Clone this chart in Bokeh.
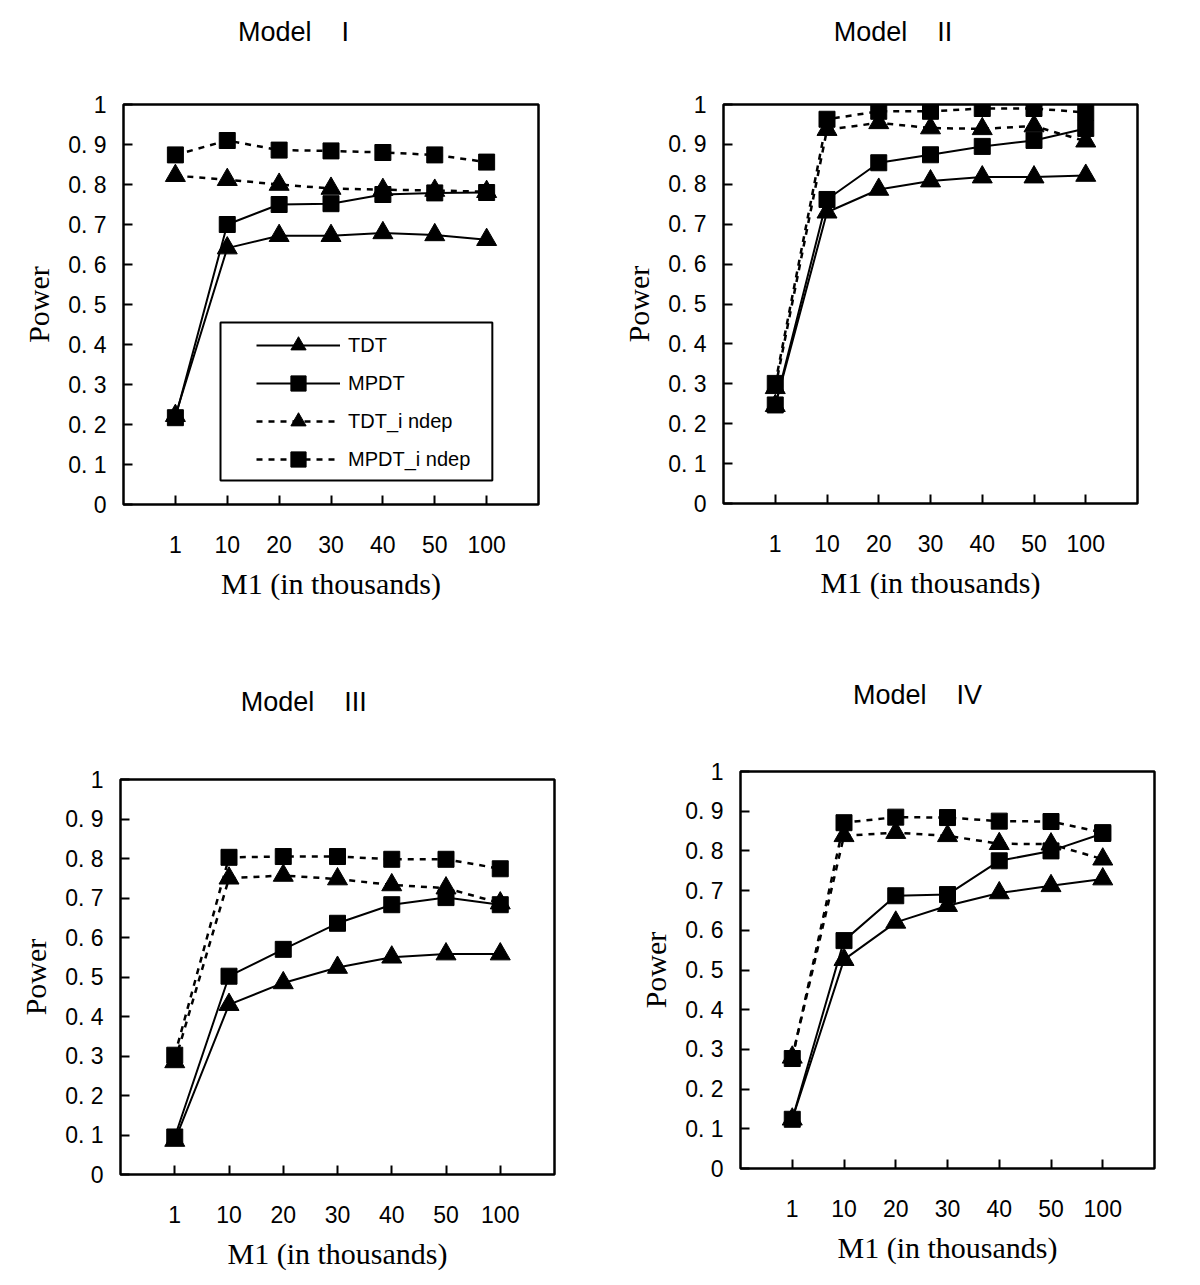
from bokeh.plotting import figure
from bokeh.models import (FixedTicker, LinearAxis, Legend, LegendItem, BoxAnnotation,
                          ColumnDataSource)
from bokeh.layouts import column, row
from bokeh.embed import file_html
from bokeh.resources import INLINE

# ---------------- data ----------------
categories = ["1", "10", "20", "30", "40", "50", "100"]
y_ticks = [0.0, 0.1, 0.2, 0.3, 0.4, 0.5, 0.6, 0.7, 0.8, 0.9, 1.0]
y_tick_labels = ["0", "0. 1", "0. 2", "0. 3", "0. 4", "0. 5", "0. 6", "0. 7", "0. 8", "0. 9", "1"]
series_names = ["TDT", "MPDT", "TDT_indep", "MPDT_indep"]
model_names = ["I", "II", "III", "IV"]

m1_tdt = [0.222, 0.641, 0.672, 0.672, 0.679, 0.674, 0.662]
m1_mpdt = [0.217, 0.700, 0.750, 0.752, 0.775, 0.779, 0.780]
m1_tdt_indep = [0.822, 0.812, 0.800, 0.790, 0.787, 0.785, 0.782]
m1_mpdt_indep = [0.874, 0.910, 0.886, 0.884, 0.880, 0.874, 0.856]

m2_tdt = [0.245, 0.730, 0.787, 0.808, 0.818, 0.818, 0.822]
m2_mpdt = [0.247, 0.762, 0.854, 0.874, 0.895, 0.910, 0.940]
m2_tdt_indep = [0.290, 0.937, 0.954, 0.941, 0.939, 0.946, 0.908]
m2_mpdt_indep = [0.301, 0.963, 0.983, 0.983, 0.990, 0.990, 0.980]

m3_tdt = [0.086, 0.430, 0.485, 0.524, 0.550, 0.558, 0.558]
m3_mpdt = [0.095, 0.502, 0.570, 0.636, 0.683, 0.701, 0.683]
m3_tdt_indep = [0.285, 0.750, 0.757, 0.748, 0.733, 0.725, 0.687]
m3_mpdt_indep = [0.302, 0.803, 0.805, 0.805, 0.798, 0.798, 0.774]

m4_tdt = [0.124, 0.526, 0.620, 0.662, 0.694, 0.712, 0.729]
m4_mpdt = [0.124, 0.574, 0.687, 0.690, 0.775, 0.800, 0.844]
m4_tdt_indep = [0.280, 0.838, 0.846, 0.838, 0.818, 0.817, 0.779]
m4_mpdt_indep = [0.277, 0.871, 0.885, 0.884, 0.875, 0.874, 0.846]

SANS = "Liberation Sans"
SERIF = "Liberation Serif"
NB = "\u00a0"


def make_panel(model, values, fw, fh, bl, br, bt, bb, title_gap, title_pad,
               legend_pos=None, margin=None):
    xs = [i + 1 for i in range(len(categories))]
    kw = {}
    if margin is not None:
        kw["margin"] = margin
    p = figure(frame_width=fw, frame_height=fh,
               min_border_left=bl, min_border_right=br,
               min_border_top=bt, min_border_bottom=bb,
               x_range=(0, len(categories) + 1), y_range=(0, 1),
               output_backend="svg", toolbar_location=None, tools="", **kw)
    p.background_fill_color = "white"
    p.border_fill_color = "white"
    p.outline_line_color = "black"
    p.outline_line_width = 2.5
    p.xgrid.visible = False
    p.ygrid.visible = False

    xa = p.below[0]
    ya = p.left[0]
    for ax in (xa, ya):
        ax.axis_line_color = None
        ax.major_tick_in = 9
        ax.major_tick_out = 0
        ax.major_tick_line_width = 2
        ax.major_tick_line_color = "black"
        ax.minor_tick_line_color = None
        ax.major_label_text_font = SANS
        ax.major_label_text_font_size = "23px"
        ax.major_label_text_color = "black"
        ax.axis_label_text_font = SERIF
        ax.axis_label_text_font_size = "30px"
        ax.axis_label_text_font_style = "normal"
        ax.axis_label_text_color = "black"

    xa.ticker = FixedTicker(ticks=xs)
    xa.major_label_overrides = {x: c for x, c in zip(xs, categories)}
    xa.major_label_standoff = 31
    xa.axis_label = "M1 (in thousands)"
    xa.axis_label_standoff = 11

    ya.ticker = FixedTicker(ticks=y_ticks)
    ya.major_label_overrides = {t: l for t, l in zip(y_ticks, y_tick_labels)}
    ya.major_label_standoff = 17
    ya.axis_label = "Power"
    ya.axis_label_standoff = 10

    # panel title, drawn as the label of an empty axis above the frame
    title_axis = LinearAxis(ticker=FixedTicker(ticks=[]),
                            axis_label="Model" + NB * 4 + model + NB * title_pad,
                            axis_line_color=None, major_tick_line_color=None,
                            minor_tick_line_color=None, major_label_text_alpha=0,
                            axis_label_standoff=title_gap,
                            axis_label_text_font=SANS, axis_label_text_font_size="27px",
                            axis_label_text_font_style="normal",
                            axis_label_text_color="black")
    p.add_layout(title_axis, "above")

    styles = [("solid", "triangle", 20, 2),
              ("solid", "square", 16, 2),
              ("6 6", "triangle", 20, 2.5),
              ("6 6", "square", 16, 2.5)]
    items = []
    for name, vals, (dash, marker, size, lw) in zip(series_names, values, styles):
        src = ColumnDataSource(dict(x=xs, y=vals))
        lr = p.line("x", "y", source=src, line_color="black", line_width=lw, line_dash=dash)
        sr = p.scatter("x", "y", source=src, marker=marker, size=size,
                       fill_color="black", line_color="black")
        label = name.replace("_indep", "_i ndep")
        items.append(LegendItem(label=label, renderers=[lr, sr]))

    if legend_pos is not None:
        lx, ly, box = legend_pos
        leg = Legend(items=items, location=(lx, ly), padding=10, spacing=0,
                     glyph_width=84, glyph_height=38, label_height=38, label_standoff=8,
                     label_text_font=SANS, label_text_font_size="20px",
                     label_text_color="black",
                     border_line_alpha=0, background_fill_alpha=0)
        p.add_layout(leg)
        p.add_layout(BoxAnnotation(left=box[0], right=box[1], bottom=box[2], top=box[3],
                                   fill_color=None, fill_alpha=0, line_color="black",
                                   line_alpha=1, line_width=2))
    return p


p1 = make_panel(model_names[0], [m1_tdt, m1_mpdt, m1_tdt_indep, m1_mpdt_indep],
                415, 400, 123, 70, 104, 136, 58, 10,
                legend_pos=(123, 16, (1.87, 7.11, 0.06, 0.455)))
p2 = make_panel(model_names[1], [m2_tdt, m2_mpdt, m2_tdt_indep, m2_mpdt_indep],
                414, 399, 115, 55, 104, 137, 58, 10)
p3 = make_panel(model_names[2], [m3_tdt, m3_mpdt, m3_tdt_indep, m3_mpdt_indep],
                434, 395, 120, 54, 131, 101, 63, 9, margin=(8, 0, 0, 0))
p4 = make_panel(model_names[3], [m4_tdt, m4_mpdt, m4_tdt_indep, m4_mpdt_indep],
                414, 397, 132, 38, 131, 107, 62, 8)

layout = column(row(p1, p2), row(p3, p4))
open("out.html", "w").write(file_html(layout, INLINE))
